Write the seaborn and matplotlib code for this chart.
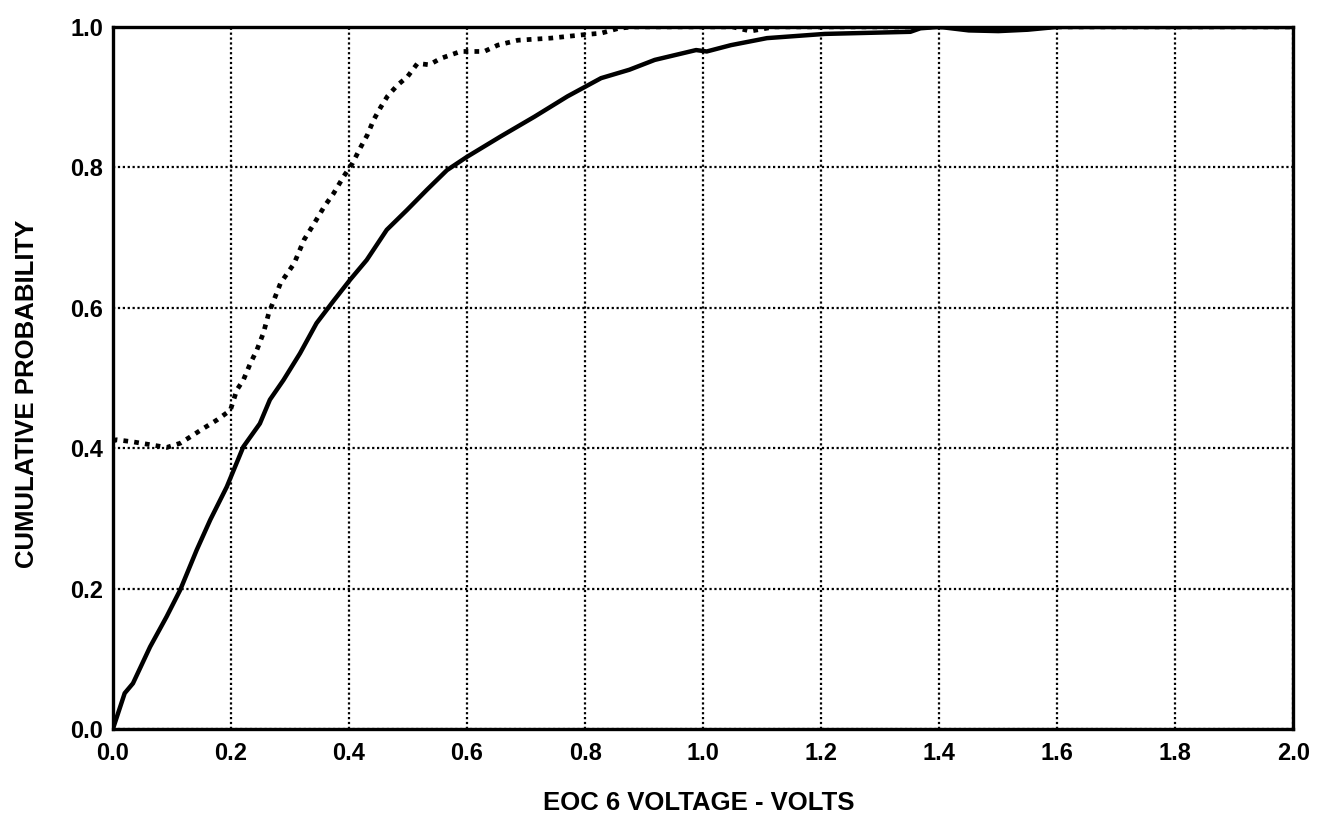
import matplotlib
matplotlib.use("Agg")
import matplotlib.pyplot as plt
import seaborn as sns
import pandas as pd

# Solid curve (EOC 6 voltage cumulative probability)
solid_x = [0.0, 0.02, 0.034, 0.063, 0.091, 0.114, 0.142, 0.165, 0.193, 0.221, 0.249, 0.266,
           0.289, 0.317, 0.345, 0.374, 0.402, 0.430, 0.464, 0.498, 0.532, 0.566, 0.600,
           0.657, 0.714, 0.770, 0.827, 0.875, 0.918, 0.988, 1.006, 1.047, 1.108, 1.206,
           1.351, 1.368, 1.40, 1.45, 1.50, 1.55, 1.60, 2.0]
solid_y = [0.0, 0.051, 0.065, 0.117, 0.160, 0.198, 0.255, 0.298, 0.345, 0.402, 0.435, 0.469,
           0.497, 0.535, 0.578, 0.610, 0.640, 0.668, 0.711, 0.739, 0.768, 0.796, 0.815,
           0.844, 0.872, 0.901, 0.927, 0.939, 0.953, 0.967, 0.965, 0.974, 0.984, 0.990,
           0.993, 0.998, 1.0, 0.995, 0.994, 0.996, 1.0, 1.0]

# Dotted curve
dotted_x = [0.0, 0.006, 0.034, 0.063, 0.091, 0.114, 0.131, 0.153, 0.176, 0.199, 0.210, 0.221,
            0.233, 0.244, 0.255, 0.264, 0.284, 0.307, 0.324, 0.341, 0.358, 0.374, 0.391,
            0.406, 0.420, 0.431, 0.442, 0.454, 0.465, 0.482, 0.499, 0.516, 0.536, 0.555,
            0.589, 0.629, 0.652, 0.686, 0.742, 0.799, 0.827, 0.857, 0.88, 1.05, 1.08, 1.12, 2.0]
dotted_y = [0.41, 0.412, 0.409, 0.405, 0.401, 0.407, 0.416, 0.428, 0.440, 0.454, 0.483, 0.497,
            0.521, 0.540, 0.564, 0.592, 0.635, 0.663, 0.697, 0.720, 0.744, 0.763, 0.787,
            0.806, 0.829, 0.846, 0.868, 0.886, 0.901, 0.917, 0.929, 0.948, 0.946, 0.955,
            0.965, 0.965, 0.974, 0.981, 0.984, 0.989, 0.991, 0.998, 1.0, 1.0, 0.994, 1.0, 1.0]

x_ticks = [0.0, 0.2, 0.4, 0.6, 0.8, 1.0, 1.2, 1.4, 1.6, 1.8, 2.0]
y_ticks = [0.0, 0.2, 0.4, 0.6, 0.8, 1.0]

sns.set_style("white")
plt.rcParams["font.family"] = ["Liberation Sans", "DejaVu Sans"]

fig = plt.figure(figsize=(13.28, 8.15), dpi=100)
ax = fig.add_axes([0.085, 0.1055, 0.889, 0.8615])

solid_df = pd.DataFrame({"x": solid_x, "y": solid_y})
dotted_df = pd.DataFrame({"x": dotted_x, "y": dotted_y})

sns.lineplot(data=solid_df, x="x", y="y", ax=ax, color="black", linewidth=3.2,
             sort=False, estimator=None, zorder=4)
sns.lineplot(data=dotted_df, x="x", y="y", ax=ax, color="black", linewidth=3.4,
             sort=False, estimator=None, zorder=3, linestyle=(0, (1.0, 1.3)))

ax.set_xlim(0, 2.0)
ax.set_ylim(0, 1.0)
ax.set_xticks(x_ticks)
ax.set_yticks(y_ticks)
ax.set_xticklabels([f"{v:.1f}" for v in x_ticks], fontweight="bold")
ax.set_yticklabels([f"{v:.1f}" for v in y_ticks], fontweight="bold")

ax.grid(True, color="black", linestyle=(0, (1, 1.2)), linewidth=1.6)
ax.set_axisbelow(True)

for s in ax.spines.values():
    s.set_color("black")
    s.set_linewidth(2.4)
    s.set_visible(True)

ax.tick_params(axis="both", length=0, labelsize=17, colors="black")
ax.tick_params(axis="x", pad=9)
ax.tick_params(axis="y", pad=7)

ax.set_xlabel("EOC 6 VOLTAGE - VOLTS", fontsize=18.5, fontweight="bold", color="black")
ax.set_ylabel("CUMULATIVE PROBABILITY", fontsize=18.5, fontweight="bold", color="black")
ax.xaxis.set_label_coords(0.496, -0.088)
ax.yaxis.set_label_coords(-0.063, 0.477)

fig.savefig("out.png", dpi=100, facecolor="white")
